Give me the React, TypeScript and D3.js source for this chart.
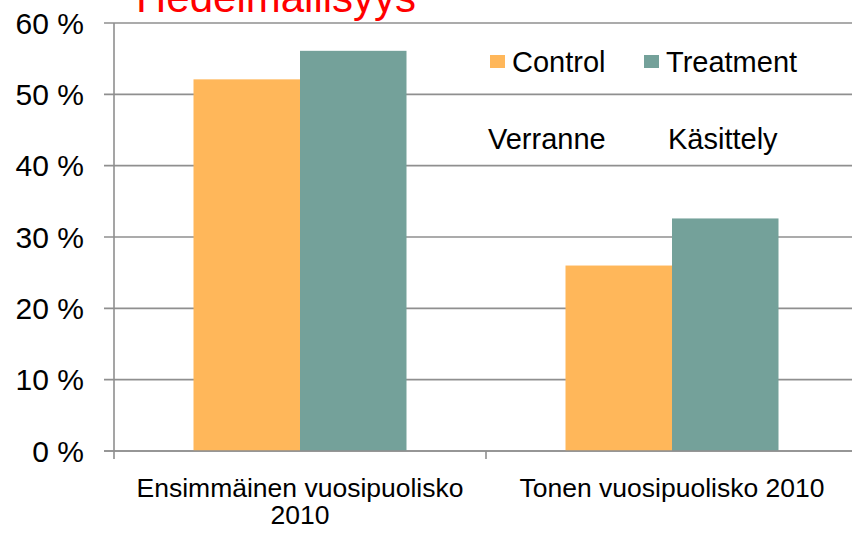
import React, { useEffect, useRef } from 'react';
import * as d3 from 'd3';

const categories = ['Ensimmäinen vuosipuolisko 2010', 'Tonen vuosipuolisko 2010'];
const categoryLines = [['Ensimmäinen vuosipuolisko', '2010'], ['Tonen vuosipuolisko 2010']];
const seriesNames = ['Control', 'Treatment'];
const controlValues = [52.1, 26.0];
const treatmentValues = [56.1, 32.6];
const yTicks = [0, 10, 20, 30, 40, 50, 60];
const colors = ['#FFB75A', '#74A19A'];
const title = 'Hedelmällisyys';
const notes = ['Verranne', 'Käsittely'];

const FONT = '"Liberation Sans", Arial, sans-serif';

function App() {
  const ref = useRef<SVGSVGElement>(null);

  useEffect(() => {
    const svg = d3.select(ref.current);
    svg.selectAll('*').remove();

    const margin = { top: 23, left: 114, right: -6, bottom: 82 };
    const width = 852 - margin.left - margin.right;
    const height = 533 - margin.top - margin.bottom;

    const g = svg.append('g').attr('transform', `translate(${margin.left},${margin.top})`);

    const x = d3.scaleBand().domain(categories).range([0, width]).padding(0);
    const y = d3.scaleLinear().domain([0, 60]).range([height, 0]);

    const barW = 106.5;
    const xSub = d3.scaleBand()
      .domain(seriesNames)
      .range([(x.bandwidth() - 2 * barW) / 2, (x.bandwidth() + 2 * barW) / 2])
      .padding(0);

    // gridlines
    g.selectAll('line.grid')
      .data(yTicks)
      .enter()
      .append('line')
      .attr('x1', -10)
      .attr('x2', width)
      .attr('y1', d => y(d))
      .attr('y2', d => y(d))
      .attr('stroke', '#8f8f8f')
      .attr('stroke-width', 1.6);

    // tick labels
    g.selectAll('text.ytick')
      .data(yTicks)
      .enter()
      .append('text')
      .attr('x', -30)
      .attr('y', d => y(d) + 10.5)
      .attr('text-anchor', 'end')
      .style('font-family', FONT)
      .style('font-size', '30px')
      .attr('fill', '#000')
      .text(d => d + ' %');

    // bars
    const rows = categories.map((c, i) => ({ cat: c, vals: [controlValues[i], treatmentValues[i]] }));
    g.selectAll('g.grp')
      .data(rows)
      .enter()
      .append('g')
      .attr('transform', d => `translate(${x(d.cat)},0)`)
      .selectAll('rect')
      .data(d => seriesNames.map((k, j) => ({ key: k, value: d.vals[j], j })))
      .enter()
      .append('rect')
      .attr('x', d => xSub(d.key) as number)
      .attr('y', d => y(d.value))
      .attr('width', xSub.bandwidth())
      .attr('height', d => height - y(d.value))
      .attr('fill', d => colors[d.j]);

    // axes lines
    g.append('line')
      .attr('x1', 0).attr('x2', 0)
      .attr('y1', 0).attr('y2', height + 8)
      .attr('stroke', '#8f8f8f').attr('stroke-width', 1.6);
    g.append('line')
      .attr('x1', -10).attr('x2', width)
      .attr('y1', height).attr('y2', height)
      .attr('stroke', '#8f8f8f').attr('stroke-width', 1.6);
    g.selectAll('line.xtick')
      .data(categories.slice(1))
      .enter()
      .append('line')
      .attr('x1', d => x(d) as number)
      .attr('x2', d => x(d) as number)
      .attr('y1', height)
      .attr('y2', height + 8)
      .attr('stroke', '#8f8f8f').attr('stroke-width', 1.6);

    // category labels
    categories.forEach((c, i) => {
      const t = g.append('text')
        .attr('x', (x(c) as number) + x.bandwidth() / 2)
        .attr('y', height + 46)
        .attr('text-anchor', 'middle')
        .style('font-family', FONT)
        .style('font-size', '26.5px')
        .attr('fill', '#000');
      categoryLines[i].forEach((line, k) => {
        t.append('tspan')
          .attr('x', (x(c) as number) + x.bandwidth() / 2)
          .attr('dy', k === 0 ? 0 : 27)
          .text(line);
      });
    });

    // legend
    const legendX = [490, 644];
    seriesNames.forEach((s, i) => {
      svg.append('rect')
        .attr('x', legendX[i]).attr('y', 55)
        .attr('width', 15).attr('height', 13)
        .attr('fill', colors[i]);
      svg.append('text')
        .attr('x', legendX[i] + 22).attr('y', 71.5)
        .style('font-family', FONT)
        .style('font-size', '29px')
        .attr('fill', '#000')
        .text(s);
    });

    // annotations
    const noteX = [488, 668];
    notes.forEach((n, i) => {
      svg.append('text')
        .attr('x', noteX[i]).attr('y', 149)
        .style('font-family', FONT)
        .style('font-size', '29px')
        .attr('fill', '#000')
        .text(n);
    });

    // title (cut at the top, as in the reference)
    svg.append('text')
      .attr('x', 136).attr('y', 12)
      .style('font-family', FONT)
      .style('font-size', '42px')
      .attr('fill', '#FF0000')
      .text(title);
  }, []);

  return (
    <svg
      ref={ref}
      width={852}
      height={533}
      style={{ position: 'absolute', left: 0, top: 0, background: '#fff', display: 'block' }}
    />
  );
}

export default App;
